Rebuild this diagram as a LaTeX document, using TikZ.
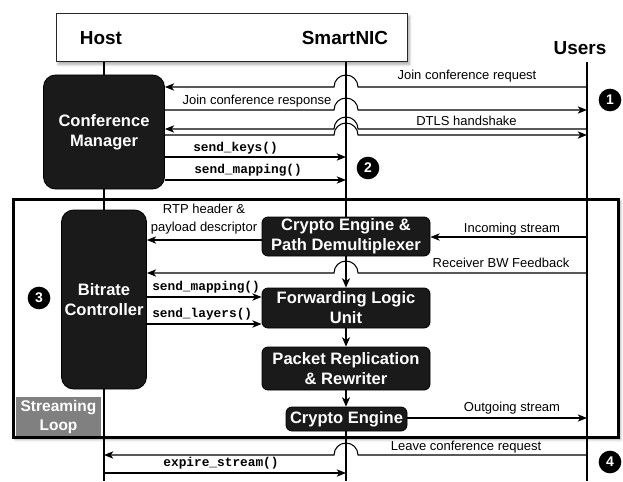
\documentclass[tikz,border=0pt]{standalone}
\usepackage{fontspec}
\setmainfont{Liberation Sans}
\setmonofont{Liberation Mono}
\usetikzlibrary{arrows.meta,shadows.blur,calc}

\definecolor{boxdark}{RGB}{26,26,26}
\definecolor{loopgray}{RGB}{128,128,128}

\begin{document}
\begin{tikzpicture}[x=0.75pt,y=-0.75pt,
  lifeline/.style={line width=1.5pt},
  msg/.style={line width=0.8pt},
  arr/.style={msg,-{Stealth[length=7pt,width=5.5pt,inset=2pt]}},
  arrthick/.style={lifeline,-{Stealth[length=7pt,width=6pt,inset=2pt]}},
  darkbox/.style={fill=boxdark, draw=black, line width=0.6pt, rounded corners=4.5pt,
    text=white, font=\fontsize{12.4}{15}\selectfont\bfseries, align=center, inner sep=0pt},
  lbl/.style={font=\fontsize{9.75}{11.7}\selectfont, anchor=base, inner sep=0pt},
  code/.style={font=\fontsize{9.6}{11.5}\selectfont\ttfamily\bfseries, anchor=base west, inner sep=0pt},
  head/.style={font=\fontsize{14.2}{17}\selectfont\bfseries, inner sep=0pt},
  badge/.style={circle, fill=black, text=white, minimum size=17pt, inner sep=0pt,
    font=\fontsize{10.5}{12}\selectfont\bfseries},
  frame/.style={fill=white, inner sep=0pt,
    blur shadow={shadow xshift=1.8pt, shadow yshift=-1.8pt, shadow blur steps=6, shadow opacity=35}},
]
\useasboundingbox (0,0) rectangle (623,481);

% streaming loop frame and the participant header
\node[frame, draw=black, line width=2.25pt, minimum width=453.75pt, minimum height=178.5pt] (loop) at (315.5,318) {};
\node[frame, draw=black!85, line width=0.75pt, minimum width=263.25pt, minimum height=36pt] (top) at (231.5,38) {};

\node[head] (host)  at (101,38) {Host};
\node[head] (nic)   at (345,38) {SmartNIC};
\node[head] (users) at (580,48) {Users};

% processing blocks
\node[darkbox, rounded corners=9pt, minimum width=90.75pt, minimum height=85.5pt] (cm) at (104,132) {Conference\\Manager};
\node[darkbox, rounded corners=9pt, minimum width=63.75pt, minimum height=134.25pt] (bc) at (104,299.5) {Bitrate\\Controller};
\node[darkbox, minimum width=126pt, minimum height=29.25pt] (dmx) at (346,236.5) {Crypto Engine \&\\Path Demultiplexer};
\node[darkbox, minimum width=126pt, minimum height=30pt] (flu) at (346,308) {Forwarding Logic\\Unit};
\node[darkbox, minimum width=126pt, minimum height=32.25pt] (prr) at (346,368.5) {Packet Replication\\\& Rewriter};
\node[darkbox, minimum width=90.75pt, minimum height=18pt] (ce) at (346.5,419) {Crypto Engine};

\node[fill=loopgray, text=white, font=\fontsize{11.6}{14.25}\selectfont\bfseries, align=center,
  minimum width=63.75pt, minimum height=29.25pt, inner sep=0pt] (sl) at (58.5,416.5) {Streaming\\Loop};

% lifelines
\coordinate (nicx) at (346,0);
\coordinate (ux) at (587,62);
\coordinate (bottomEdge) at (0,481);
\draw[lifeline] (top.south -| cm) -- (cm.north);
\draw[lifeline] (cm.south) -- (bc.north);
\draw[lifeline] (bc.south) -- (bc.south |- bottomEdge);
\draw[lifeline] (top.south -| nicx) -- (dmx.north -| nicx);
\draw[lifeline] (ce.south -| nicx) -- (nicx |- bottomEdge);
\draw[lifeline] (ux) -- (ux |- bottomEdge);

% message rows
\coordinate (m1) at (587,87);
\coordinate (m2) at (587,110);
\coordinate (m3) at (587,129);
\coordinate (m4) at (587,135);
\coordinate (k1) at (346,157);
\coordinate (k2) at (346,180);
\coordinate (rtpRow) at (0,240);
\coordinate (s1) at (587,237);
\coordinate (s2) at (587,273);
\coordinate (bm) at (0,297);
\coordinate (bl) at (0,324);
\coordinate (s3) at (587,418);
\coordinate (m5) at (587,455);
\coordinate (k3) at (346,473);

% signalling between host and users (hopping over the SmartNIC line)
\draw[arr] (m1) -- ($(m1 -| nicx)+(12,0)$) arc[start angle=0,end angle=-180,radius=12] -- (m1 -| cm.east);
\draw[arr] (m2 -| cm.east) -- ($(m2 -| nicx)+(-12,0)$) arc[start angle=180,end angle=360,radius=12] -- (m2);
\draw[arr] (m3) -- ($(m3 -| nicx)+(12,0)$) arc[start angle=0,end angle=-180,radius=12] -- (m3 -| cm.east);
\draw[arr] (m4 -| cm.east) -- ($(m4 -| nicx)+(-12,0)$) arc[start angle=180,end angle=360,radius=12] -- (m4);
\draw[arr] (k1 -| cm.east) -- (k1);
\draw[arr] (k2 -| cm.east) -- (k2);

% streaming loop
\draw[arr] (dmx.west |- rtpRow) -- (bc.east |- rtpRow);
\draw[arr] (s1) -- (s1 -| dmx.east);
\draw[arr] (s2) -- ($(s2 -| nicx)+(12,0)$) arc[start angle=0,end angle=-180,radius=12] -- (s2 -| bc.east);
\draw[arrthick] (dmx.south -| nicx) -- (flu.north -| nicx);
\draw[arr] (bc.east |- bm) -- (flu.west |- bm);
\draw[arr] (bc.east |- bl) -- (flu.west |- bl);
\draw[arrthick] (flu.south -| nicx) -- (prr.north -| nicx);
\draw[arrthick] (prr.south -| nicx) -- (ce.north -| nicx);
\draw[arr] (s3 -| ce.east) -- (s3);

% teardown
\draw[arr] (m5) -- ($(m5 -| nicx)+(12,0)$) arc[start angle=0,end angle=-180,radius=12] -- (m5 -| bc.south);
\draw[arr] (k3 -| bc.south) -- (k3);

% labels
\node[lbl] (tJoinReq) at (467,79.5) {Join conference request};
\node[lbl] (tJoinRsp) at (257,104) {Join conference response};
\node[lbl] (tDtls) at (466.5,126) {DTLS handshake};
\node[code] (tKeys) at (193,151) {send\_keys()};
\node[code] (tMap) at (194,173) {send\_mapping()};
\node[lbl] (tRtp1) at (204,213) {RTP header \&};
\node[lbl] (tRtp2) at (204,231) {payload descriptor};
\node[lbl] (tIn) at (512,232) {Incoming stream};
\node[lbl] (tBw) at (501,267) {Receiver BW Feedback};
\node[code] (tMap2) at (152,290) {send\_mapping()};
\node[code] (tLay) at (152,317) {send\_layers()};
\node[lbl] (tOut) at (512,411) {Outgoing stream};
\node[lbl] (tLeave) at (466,450) {Leave conference request};
\node[code, anchor=base] (tExp) at (221,466) {expire\_stream()};

% step markers
\node[badge] (b1) at (610,100) {1};
\node[badge] (b2) at (368,168) {2};
\node[badge] (b3) at (39,298) {3};
\node[badge] (b4) at (610,462) {4};
\end{tikzpicture}
\end{document}
